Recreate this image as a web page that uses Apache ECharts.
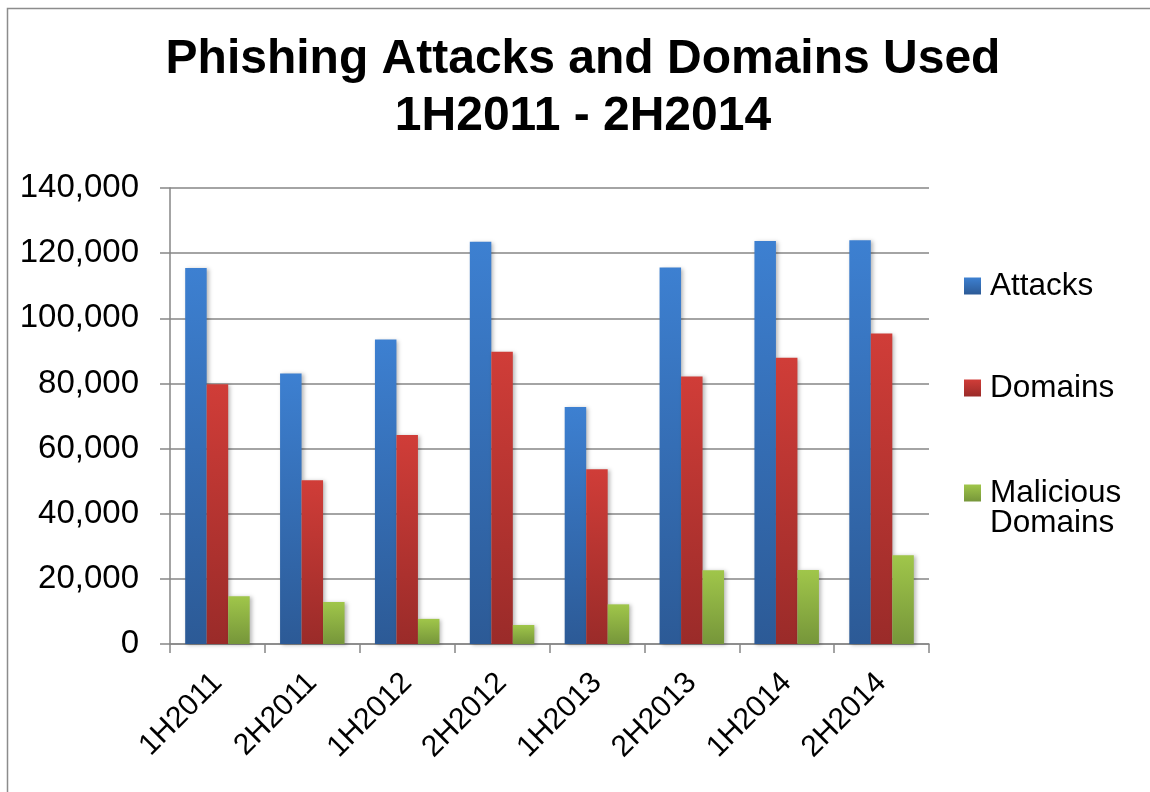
<!DOCTYPE html>
<html><head><meta charset="utf-8">
<script src="https://cdn.jsdelivr.net/npm/echarts@6/dist/echarts.min.js"></script>
<style>html,body{margin:0;padding:0;background:#fff}#c{width:1150px;height:792px}</style>
</head><body><div id="c"></div>
<script>
const categories = ['1H2011','2H2011','1H2012','2H2012','1H2013','2H2013','1H2014','2H2014'];
const attacks   = [115472, 83083, 93462, 123486, 72758, 115565, 123741, 123972];
const domains   = [79753, 50298, 64204, 89748, 53685, 82163, 87901, 95321];
const malicious = [14650, 12895, 7712, 5835, 12173, 22679, 22700, 27253];
const seriesNames = ['Attacks', 'Domains', 'Malicious Domains'];
const yMin = 0, yMax = 140000, yStep = 20000;
const titleText = 'Phishing Attacks and Domains Used\n1H2011 - 2H2014';

const FONT = '"Liberation Sans", Arial, sans-serif';
const grad = (a, b) => new echarts.graphic.LinearGradient(0, 0, 0, 1, [{offset: 0, color: a}, {offset: 1, color: b}]);
const colors = [grad('#3d80d1', '#2c5a96'), grad('#d03d38', '#9a2b29'), grad('#a0c64a', '#76963a')];
const values = [attacks, domains, malicious];

const chart = echarts.init(document.getElementById('c'), null, {renderer: 'canvas'});
const legendTops = [270, 372, 447];
chart.setOption({
  backgroundColor: '#ffffff',
  animation: false,
  title: {
    text: titleText,
    left: 583,
    textAlign: 'center',
    top: 31,
    padding: 0,
    textStyle: {fontFamily: FONT, fontWeight: 'bold', fontSize: 48, lineHeight: 57, color: '#000'}
  },
  graphic: [{
    type: 'rect', shape: {x: 7.5, y: 8.5, width: 1160, height: 800},
    style: {fill: 'none', stroke: '#8c8c8c', lineWidth: 1.5}, silent: true
  }],
  legend: seriesNames.map((n, i) => ({
    data: [n], orient: 'vertical', left: 964, top: legendTops[i], padding: 0,
    icon: 'rect', itemWidth: 17, itemHeight: 17, selectedMode: false,
    formatter: nm => nm.indexOf(' ') > 0 ? '\n' + nm.replace(' ', '\n') : nm,
    textStyle: {fontFamily: FONT, fontSize: 31.5, lineHeight: 30, color: '#000', padding: [0, 0, 0, 4]}
  })),
  grid: {left: 170, right: 221, top: 188, bottom: 148, containLabel: false},
  xAxis: {
    type: 'category', data: categories,
    axisLine: {lineStyle: {color: '#868686', width: 1.5}},
    axisTick: {show: true, length: 9, alignWithLabel: false, lineStyle: {color: '#868686', width: 1.5}},
    axisLabel: {rotate: 45, margin: 34, fontFamily: FONT, fontSize: 30, color: '#000'}
  },
  yAxis: {
    type: 'value', min: yMin, max: yMax, interval: yStep,
    axisLine: {show: true, lineStyle: {color: '#868686', width: 1.5}},
    axisTick: {show: true, length: 10, lineStyle: {color: '#868686', width: 1.5}},
    splitLine: {show: true, lineStyle: {color: '#868686', width: 1.5}},
    axisLabel: {margin: 31, fontFamily: FONT, fontSize: 33, color: '#000',
      formatter: v => v.toLocaleString('en-US')}
  },
  series: seriesNames.map((n, i) => ({
    name: n, type: 'bar', data: values[i], barWidth: 21.5, barGap: '0%',
    itemStyle: {color: colors[i], shadowColor: 'rgba(0,0,0,0.28)', shadowBlur: 4, shadowOffsetX: 2, shadowOffsetY: 1}
  }))
});
</script></body></html>
